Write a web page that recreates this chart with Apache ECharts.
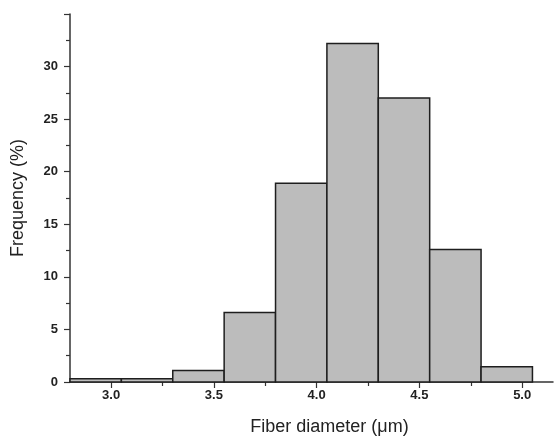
<!DOCTYPE html>
<html>
<head>
<meta charset="utf-8">
<script src="https://cdn.jsdelivr.net/npm/echarts@6/dist/echarts.min.js"></script>
<style>html,body{margin:0;padding:0;background:#fff}#c{width:554px;height:444px}</style>
</head>
<body>
<div id="c"></div>
<script>
// Histogram bins (fiber diameter, µm) and frequencies (%)
const binStarts = [2.80, 3.05, 3.30, 3.55, 3.80, 4.05, 4.30, 4.55, 4.80];
const binEnds   = [3.05, 3.30, 3.55, 3.80, 4.05, 4.30, 4.55, 4.80, 5.05];
const frequency = [0.3, 0.3, 1.1, 6.6, 18.9, 32.2, 27.0, 12.6, 1.45];
const xMajorTicks = [3.0, 3.5, 4.0, 4.5, 5.0];
const xMinorTicks = [3.25, 3.75, 4.25, 4.75];
const xTitle = 'Fiber diameter (\u03bcm)';
const yTitle = 'Frequency (%)';

const data = binStarts.map((s, i) => [s, binEnds[i], frequency[i]]);
const font = '"Liberation Sans", Arial, sans-serif';
const axisColor = '#333';

const chart = echarts.init(document.getElementById('c'), null, {renderer: 'canvas'});
chart.setOption({
  animation: false,
  backgroundColor: '#fff',
  grid: {left: 70, right: 1, top: 14, bottom: 62},
  xAxis: [{
    type: 'value', min: 2.8, max: 5.15,
    splitLine: {show: false},
    axisLine: {lineStyle: {color: axisColor, width: 1.5}},
    axisTick: {show: true, length: 6, inside: false, customValues: xMajorTicks, lineStyle: {color: axisColor, width: 1.2}},
    axisLabel: {customValues: xMajorTicks, margin: 7, fontFamily: font, fontWeight: 'bold', fontSize: 13, color: '#222',
      formatter: v => v.toFixed(1)},
    name: xTitle, nameLocation: 'middle', nameGap: 36,
    nameTextStyle: {fontFamily: font, fontSize: 18, color: '#222', padding: [0, 0, 0, 36]}
  }, {
    type: 'value', min: 2.8, max: 5.15, position: 'bottom',
    splitLine: {show: false},
    axisLine: {show: false},
    axisTick: {show: true, length: 4, customValues: xMinorTicks, lineStyle: {color: axisColor, width: 1.2}},
    axisLabel: {show: false}
  }],
  yAxis: {
    type: 'value', min: 0, max: 35, interval: 5,
    splitLine: {show: false},
    axisLine: {show: true, lineStyle: {color: axisColor, width: 1.5}},
    axisTick: {show: true, length: 6, lineStyle: {color: axisColor, width: 1.2}},
    minorTick: {show: true, splitNumber: 2, length: 4, lineStyle: {color: axisColor, width: 1.2}},
    axisLabel: {margin: 12, showMaxLabel: false, fontFamily: font, fontWeight: 'bold', fontSize: 13, color: '#222'},
    name: yTitle, nameLocation: 'middle', nameGap: 43, nameRotate: 90,
    nameTextStyle: {fontFamily: font, fontSize: 18, color: '#222'}
  },
  series: [{
    type: 'custom',
    xAxisIndex: 0,
    encode: {x: [0, 1], y: 2},
    data: data,
    renderItem: function (params, api) {
      const p0 = api.coord([api.value(0), api.value(2)]);
      const p1 = api.coord([api.value(1), 0]);
      return {
        type: 'rect',
        shape: {x: p0[0], y: p0[1], width: p1[0] - p0[0], height: p1[1] - p0[1]},
        style: {fill: '#bcbcbc', stroke: '#1e1e1e', lineWidth: 1.5}
      };
    }
  }]
});
</script>
</body>
</html>
